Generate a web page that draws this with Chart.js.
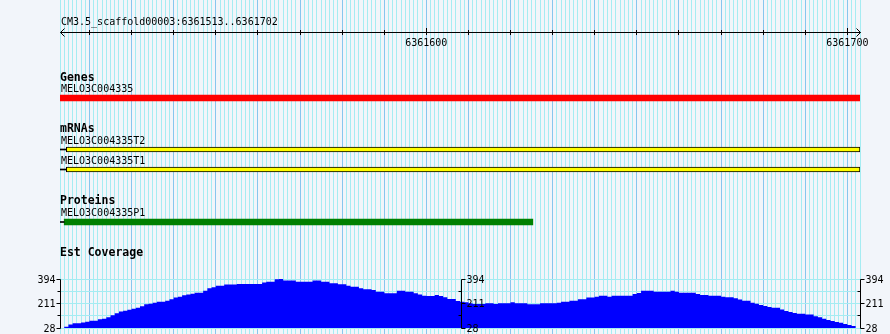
<!DOCTYPE html>
<html lang="en">
  <head>
    <meta charset="UTF-8" />
    <meta name="viewport" content="width=device-width, initial-scale=1.0" />
    <title>CM3.5_scaffold00003:6361513..6361702</title>
    <script src="https://cdn.jsdelivr.net/npm/chart.js@4.4.1/dist/chart.umd.min.js"></script>
    <style>
      body { margin: 0; background: #f2f5fa; }
      #wrap { width: 890px; height: 334px; }
    </style>
  </head>
  <body>
    <div id="wrap"><canvas id="myChart"></canvas></div>

    <script>
      const refName = "CM3.5_scaffold00003";
      const viewStart = 6361513;
      const viewStop = 6361702;
      const rulerLabels = [6361600, 6361700];

      const geneNames = ["MELO3C004335"];
      const geneSpans = [[6361513, 6361703]];
      const mrnaNames = ["MELO3C004335T2", "MELO3C004335T1"];
      const mrnaSpans = [[6361514.5, 6361703], [6361514.5, 6361703]];
      const proteinNames = ["MELO3C004335P1"];
      const proteinSpans = [[6361514, 6361625.3]];

      // est coverage, one value per base from viewStart
      const coverage = [
        28, 38, 55, 63, 63, 70, 75, 83, 83, 93,
        98, 108, 123, 138, 152, 157, 165, 172, 180, 190,
        205, 210, 217, 225, 225, 232, 242, 255, 262, 272,
        279, 284, 292, 292, 307, 324, 332, 344, 344, 352,
        352, 352, 357, 357, 357, 357, 357, 357, 367, 374,
        374, 392, 394, 382, 382, 382, 374, 374, 374, 374,
        382, 382, 374, 374, 362, 362, 354, 354, 344, 337,
        337, 324, 317, 317, 312, 299, 299, 287, 287, 287,
        307, 307, 299, 299, 287, 279, 269, 267, 267, 274,
        267, 257, 245, 245, 230, 225, 220, 212, 207, 207,
        207, 212, 212, 207, 212, 212, 212, 220, 212, 212,
        212, 205, 205, 205, 212, 212, 212, 212, 217, 225,
        225, 232, 232, 242, 242, 255, 255, 262, 269, 269,
        262, 269, 269, 269, 269, 269, 282, 289, 307, 307,
        307, 299, 299, 299, 299, 307, 299, 292, 292, 292,
        292, 282, 274, 274, 269, 269, 269, 262, 257, 257,
        250, 240, 232, 232, 217, 210, 200, 192, 185, 180,
        180, 167, 155, 147, 140, 135, 135, 128, 128, 115,
        108, 98, 88, 80, 73, 68, 58, 50, 43, 28,
      ];
      const covTicks = [28, 211, 394];

      // layout: track rows in pixels from the top
      const rowY = { gene: [98], mrna: [149.5, 169.5], protein: [222] };
      const trackTitles = [["Genes", 80.5], ["mRNAs", 131.5], ["Proteins", 203.5], ["Est Coverage", 256]];

      const mono = "'DejaVu Sans Mono', monospace";
      const gridMinor = "rgb(165,236,242)";
      const gridMajor = "rgb(135,198,238)";

      function bars(spans, rows) {
        return spans.map((s, i) => ({ x: s, y: rows[i] }));
      }
      function stubs(spans, rows) {
        return spans.map((s, i) => ({ x: [viewStart, s[0]], y: rows[i] }));
      }

      const decor = {
        id: "decor",
        afterDatasetsDraw(chart) {
          const { ctx, chartArea, scales } = chart;
          const x = scales.x, yc = scales.yc;
          ctx.save();
          ctx.strokeStyle = "#000";
          ctx.fillStyle = "#000";
          ctx.lineWidth = 1;

          // ruler
          const ry = 32.5;
          const l = Math.floor(x.getPixelForValue(viewStart)) + 0.5;
          const r = Math.floor(x.getPixelForValue(viewStop + 1)) + 0.5;
          ctx.beginPath();
          ctx.moveTo(l, ry); ctx.lineTo(r, ry);
          ctx.moveTo(l + 4, ry - 4); ctx.lineTo(l, ry); ctx.lineTo(l + 4, ry + 4);
          ctx.moveTo(r - 4, ry - 4); ctx.lineTo(r, ry); ctx.lineTo(r - 4, ry + 4);
          for (let v = Math.ceil(viewStart / 10) * 10; v <= viewStop; v += 10) {
            const px = Math.floor(x.getPixelForValue(v)) + 0.5;
            ctx.moveTo(px, rulerLabels.includes(v) ? 28 : 30);
            ctx.lineTo(px, 35);
          }
          ctx.stroke();

          ctx.font = "10px " + mono;
          ctx.textBaseline = "alphabetic";
          ctx.textAlign = "left";
          ctx.fillText(refName + ":" + viewStart + ".." + viewStop, 61, 25);
          ctx.textAlign = "center";
          rulerLabels.forEach((v) => ctx.fillText(String(v), x.getPixelForValue(v), 46));

          // track titles and feature names
          ctx.textAlign = "left";
          ctx.font = "bold 11.5px " + mono;
          trackTitles.forEach(([t, y]) => ctx.fillText(t, 60, y));
          ctx.font = "10px " + mono;
          const named = [[geneNames, rowY.gene, 3], [mrnaNames, rowY.mrna, 2.5], [proteinNames, rowY.protein, 3]];
          named.forEach(([names, rows, half]) => {
            names.forEach((n, i) => ctx.fillText(n, 61, rows[i] - half - 3.5));
          });

          // coverage scales: left, middle, right
          const minor = [(covTicks[0] + covTicks[1]) / 2, (covTicks[1] + covTicks[2]) / 2];
          const top = Math.floor(yc.getPixelForValue(covTicks[2])) + 0.5;
          const bot = Math.floor(yc.getPixelForValue(covTicks[0])) + 0.5;
          const axes = [
            { ax: Math.floor(chartArea.left) + 0.5, side: -1 },
            { ax: Math.floor((chartArea.left + chartArea.right) / 2) + 1.5, side: 1 },
            { ax: Math.floor(chartArea.right) + 0.5, side: 1 },
          ];
          ctx.textBaseline = "middle";
          axes.forEach(({ ax, side }) => {
            ctx.beginPath();
            ctx.moveTo(ax, top); ctx.lineTo(ax, bot);
            covTicks.forEach((v) => {
              const py = Math.floor(yc.getPixelForValue(v)) + 0.5;
              ctx.moveTo(ax, py); ctx.lineTo(ax + side * 4, py);
            });
            minor.forEach((v) => {
              const py = Math.floor(yc.getPixelForValue(v)) + 0.5;
              ctx.moveTo(ax, py); ctx.lineTo(ax - 3, py);
            });
            ctx.stroke();
            ctx.textAlign = side < 0 ? "right" : "left";
            covTicks.forEach((v) => {
              ctx.fillText(String(v), ax + side * 5, yc.getPixelForValue(v) + 1);
            });
          });
          ctx.restore();
        },
      };

      const barBase = {
        type: "bar",
        indexAxis: "y",
        xAxisID: "x",
        yAxisID: "yt",
        grouped: false,
        borderSkipped: false,
      };
      const hidden = {
        ticks: { display: false, padding: 0 },
        grid: { display: false, drawTicks: false },
        border: { display: false },
      };

      new Chart(document.getElementById("myChart"), {
        data: {
          datasets: [
            {
              type: "line",
              xAxisID: "x",
              yAxisID: "yc",
              data: coverage.map((v, i) => ({ x: viewStart + i, y: v })),
              stepped: true,
              fill: "start",
              backgroundColor: "#0000ff",
              borderWidth: 0,
              pointRadius: 0,
              pointHitRadius: 0,
            },
            { ...barBase, data: stubs(mrnaSpans, rowY.mrna).concat(stubs(proteinSpans, rowY.protein)),
              barThickness: 1, backgroundColor: "#000" },
            { ...barBase, data: bars(geneSpans, rowY.gene), barThickness: 6, backgroundColor: "#ff0000" },
            { ...barBase, data: bars(mrnaSpans, rowY.mrna), barThickness: 5, backgroundColor: "#ffff00",
              borderColor: "#000", borderWidth: 1 },
            { ...barBase, data: bars(proteinSpans, rowY.protein), barThickness: 6, backgroundColor: "#008000" },
          ],
        },
        options: {
          responsive: true,
          maintainAspectRatio: false,
          animation: false,
          events: [],
          layout: { padding: { left: 60, right: 30, top: 0, bottom: 0 } },
          plugins: { legend: { display: false }, tooltip: { enabled: false } },
          scales: {
            x: {
              type: "linear",
              min: viewStart,
              max: viewStop + 1,
              offset: false,
              ticks: { display: false, autoSkip: false, padding: 0 },
              border: { display: false },
              grid: {
                drawTicks: false,
                color: (c) => (c.tick && c.tick.value % 10 === 0 ? gridMajor : gridMinor),
              },
              afterBuildTicks(s) {
                const t = [];
                for (let v = viewStart; v <= viewStop + 1; v++) t.push({ value: v });
                s.ticks = t;
              },
            },
            yt: {
              ...hidden,
              type: "linear", position: "right", stack: "tracks", stackWeight: 279,
              reverse: true, min: 0, max: 279, offset: false,
            },
            yc: {
              type: "linear", position: "right", stack: "tracks", stackWeight: 49,
              min: covTicks[0], max: covTicks[2], offset: false,
              ticks: { display: false, padding: 0 }, border: { display: false },
              grid: { drawTicks: false, color: gridMinor },
              afterBuildTicks(s) {
                const t = [];
                for (let i = 0; i < covTicks.length; i++) {
                  t.push({ value: covTicks[i] });
                  if (i < covTicks.length - 1) t.push({ value: (covTicks[i] + covTicks[i + 1]) / 2 });
                }
                s.ticks = t;
              },
            },
            yb: {
              ...hidden,
              type: "linear", position: "right", stack: "tracks", stackWeight: 6, offset: false,
            },
          },
        },
        plugins: [decor],
      });
    </script>
  </body>
</html>
